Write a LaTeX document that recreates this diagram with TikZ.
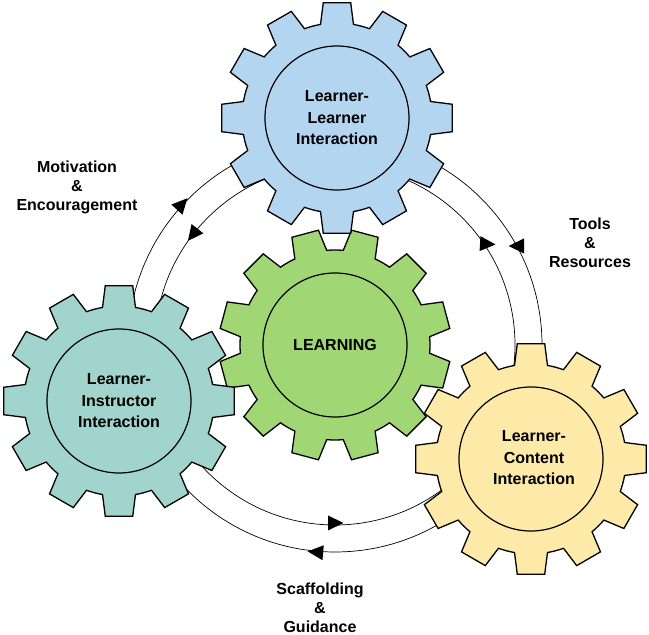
\documentclass[tikz,border=0pt]{standalone}
\usepackage{fontspec}
\setmainfont{Liberation Sans}
\usetikzlibrary{calc}
\definecolor{gblue}{RGB}{180,213,240}
\definecolor{ggreen}{RGB}{160,214,115}
\definecolor{gteal}{RGB}{160,212,205}
\definecolor{gyellow}{RGB}{253,233,168}
\tikzset{
  gearline/.style={draw=black, line width=1.3pt, line join=miter},
  hubline/.style={draw=black, line width=1.2pt},
  flow/.style={draw=black, line width=0.7pt},
  geartext/.style={font=\bfseries\fontsize{16}{21.5}\selectfont, align=center, inner sep=0pt},
  labeltext/.style={font=\bfseries\fontsize{16}{19}\selectfont, align=center, inner sep=0pt},
  arrowhd/.pic={\fill[black] (8.5,0) -- (-7,7.5) -- (-7,-7.5) -- cycle;}
}
\newcommand\drawgear[3]{%
  \begin{scope}[shift={(#1)}]
    \filldraw[gearline, fill=#3] ({#2-10}:95pt)
      \foreach \k in {0,...,11}{
        -- ({#2+30*\k-6.8}:116pt) -- ({#2+30*\k+6.8}:116pt) -- ({#2+30*\k+10}:95pt)
        arc[start angle={#2+30*\k+10}, end angle={#2+30*\k+20}, radius=95pt]
      } -- cycle;
    \draw[hubline] (0,0) circle[radius=72pt];
  \end{scope}
}
\begin{document}
\begin{tikzpicture}[x=1pt,y=1pt]
\useasboundingbox (0,0) rectangle (649,635);
\coordinate (G) at (335,290);
\coordinate (B) at (337,517);
\coordinate (T) at (119,234);
\coordinate (Y) at (531,176);
% flow circles
\draw[flow] (G) circle[radius=207pt];
\draw[flow] (G) circle[radius=180pt];
% arrowheads
\pic[rotate=47.5] at ($(G)+(137.5:208pt)$) {arrowhd};
\pic[rotate=232] at ($(G)+(142:180pt)$) {arrowhd};
\pic[rotate=180] at (517,389) {arrowhd};
\pic[rotate=-3] at (487,391) {arrowhd};
\pic[rotate=0] at ($(G)+(-90:178pt)$) {arrowhd};
\pic[rotate=175] at ($(G)+(-95.2:208pt)$) {arrowhd};
% gears
\drawgear{G}{15}{ggreen}
\drawgear{B}{0}{gblue}
\drawgear{T}{0}{gteal}
\drawgear{Y}{0}{gyellow}
% texts
\node[geartext] (tB) at (B) {Learner-\\Learner\\Interaction};
\node[geartext] (tT) at (T) {Learner-\\Instructor\\Interaction};
\node[geartext] (tY) at ($(Y)+(3,1)$) {Learner-\\Content\\Interaction};
\node[geartext] (tG) at (G) {LEARNING};
\node[labeltext] (lM) at (77,448) {Motivation\\\&\\Encouragement};
\node[labeltext] (lT) at (590,392) {Tools\\\&\\Resources};
\node[labeltext] (lS) at (320,27) {Scaffolding\\\&\\Guidance};
\end{tikzpicture}
\end{document}
